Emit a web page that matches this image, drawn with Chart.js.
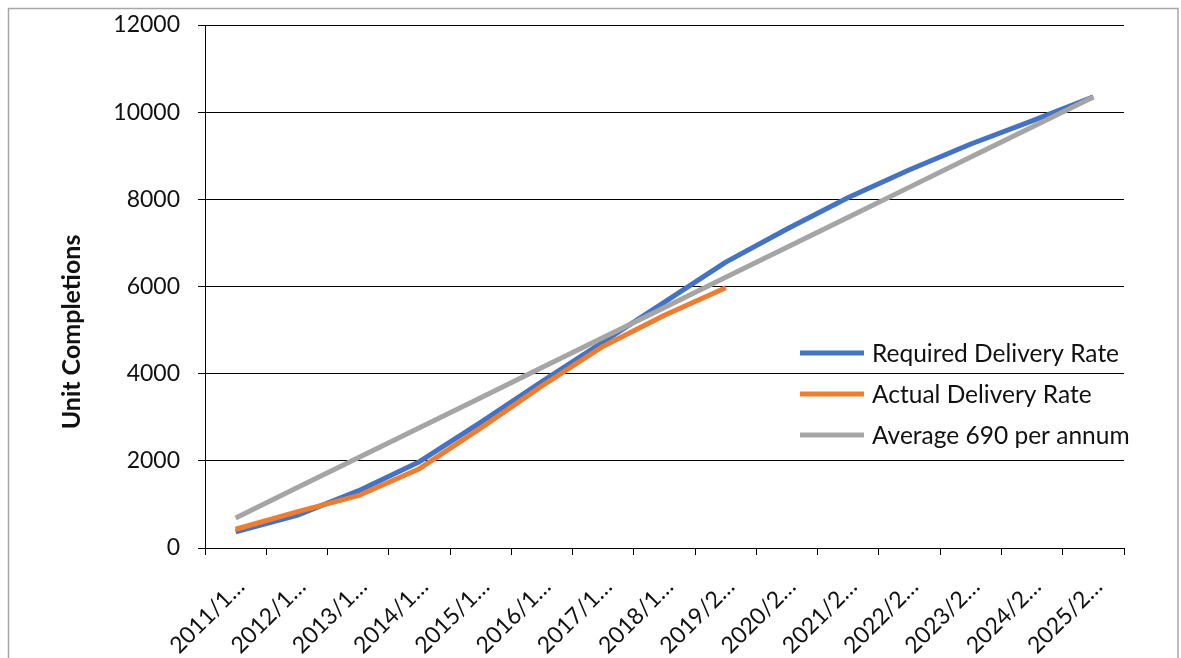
<!DOCTYPE html>
<html>
<head>
<meta charset="utf-8">
<title>Unit Completions</title>
<script src="https://cdn.jsdelivr.net/npm/chart.js@4.4.1/dist/chart.umd.min.js"></script>
<style>
  html, body { margin: 0; padding: 0; background: #ffffff; }
  #wrap { width: 1181px; height: 658px; position: relative; }
</style>
</head>
<body>
<div id="wrap"><canvas id="chart"></canvas></div>
<script>
// Monitoring years (labels as they appear, truncated)
const years = ['2011/1…', '2012/1…', '2013/1…', '2014/1…', '2015/1…', '2016/1…', '2017/1…', '2018/1…',
               '2019/2…', '2020/2…', '2021/2…', '2022/2…', '2023/2…', '2024/2…', '2025/2…'];

// Cumulative unit completions
const requiredDelivery = [370, 750, 1310, 1980, 2880, 3820, 4730, 5640, 6560, 7320, 8040, 8680, 9270, 9800, 10350];
const actualDelivery   = [430, 830, 1200, 1820, 2750, 3720, 4630, 5340, 5970];
const averageDelivery  = [690, 1380, 2070, 2760, 3450, 4140, 4830, 5520, 6210, 6900, 7590, 8280, 8970, 9660, 10350];

const seriesNames = ['Required Delivery Rate', 'Actual Delivery Rate', 'Average 690 per annum'];
const yTicks = [0, 2000, 4000, 6000, 8000, 10000, 12000];
const yTitle = 'Unit Completions';

const FONT = 'Lato, "Open Sans", "Liberation Sans", sans-serif';
const INK = '#111111';

// Outer frame, rotated axis title and in-plot legend
const decorations = {
  id: 'decorations',
  beforeDraw(chart) {
    const ctx = chart.ctx;
    ctx.save();
    ctx.fillStyle = '#ffffff';
    ctx.fillRect(0, 0, chart.width, chart.height);
    ctx.strokeStyle = '#a6a6a6';
    ctx.lineWidth = 1.5;
    ctx.strokeRect(8.5, 8.5, 1169.5, 700);
    ctx.restore();
  },
  afterDraw(chart) {
    const ctx = chart.ctx;
    const area = chart.chartArea;
    ctx.save();
    // y axis title
    ctx.translate(72, 332);
    ctx.rotate(-Math.PI / 2);
    ctx.font = 'bold 25px ' + FONT;
    ctx.fillStyle = INK;
    ctx.textAlign = 'center';
    ctx.textBaseline = 'middle';
    ctx.fillText(yTitle, 0, 0);
    ctx.restore();

    // legend
    ctx.save();
    ctx.font = '24.5px ' + FONT;
    ctx.textBaseline = 'middle';
    ctx.textAlign = 'left';
    const x0 = area.right - 324;
    chart.data.datasets.forEach((ds, i) => {
      const y = 353 + i * 41;
      ctx.strokeStyle = ds.borderColor;
      ctx.lineWidth = 5;
      ctx.lineCap = 'butt';
      ctx.beginPath();
      ctx.moveTo(x0, y);
      ctx.lineTo(x0 + 64, y);
      ctx.stroke();
      ctx.fillStyle = INK;
      ctx.fillText(ds.label, x0 + 72, y + 1);
    });
    ctx.restore();
  }
};

const lineStyle = { borderWidth: 5, pointRadius: 0, pointHoverRadius: 0, tension: 0, fill: false,
                    borderCapStyle: 'butt', borderJoinStyle: 'round' };

new Chart(document.getElementById('chart'), {
  type: 'line',
  data: {
    labels: years,
    datasets: [
      Object.assign({ label: seriesNames[0], data: requiredDelivery, borderColor: '#4472C4', order: 3 }, lineStyle),
      Object.assign({ label: seriesNames[1], data: actualDelivery,   borderColor: '#ED7D31', order: 2 }, lineStyle),
      Object.assign({ label: seriesNames[2], data: averageDelivery,  borderColor: '#A5A5A5', order: 1 }, lineStyle)
    ]
  },
  options: {
    responsive: true,
    maintainAspectRatio: false,
    animation: false,
    devicePixelRatio: 1,
    layout: { padding: { left: 0, top: 25, right: 57, bottom: 0 } },
    plugins: {
      legend: { display: false },
      tooltip: { enabled: false }
    },
    scales: {
      x: {
        type: 'category',
        offset: true,
        grid: { offset: true, drawOnChartArea: false, drawTicks: true, tickLength: 7, color: '#000000', lineWidth: 1 },
        border: { display: true, color: '#000000', width: 1 },
        ticks: {
          autoSkip: false, minRotation: 45, maxRotation: 45, padding: 18, labelOffset: 5,
          color: INK, font: { family: FONT, size: 23 }
        },
        afterFit(scale) { scale.height = 110; scale.paddingLeft = 0; scale.paddingRight = 0; }
      },
      y: {
        min: 0,
        max: 12000,
        afterBuildTicks(scale) { scale.ticks = yTicks.map(v => ({ value: v })); },
        grid: { color: '#000000', lineWidth: 1, drawTicks: true, tickLength: 7 },
        border: { display: true, color: '#000000', width: 1 },
        ticks: {
          padding: 18, color: INK, font: { family: FONT, size: 23 },
          callback: (v) => String(v)
        },
        afterFit(scale) { scale.width = 205; scale.paddingTop = 0; scale.paddingBottom = 0; }
      }
    }
  },
  plugins: [decorations]
});
</script>
</body>
</html>
